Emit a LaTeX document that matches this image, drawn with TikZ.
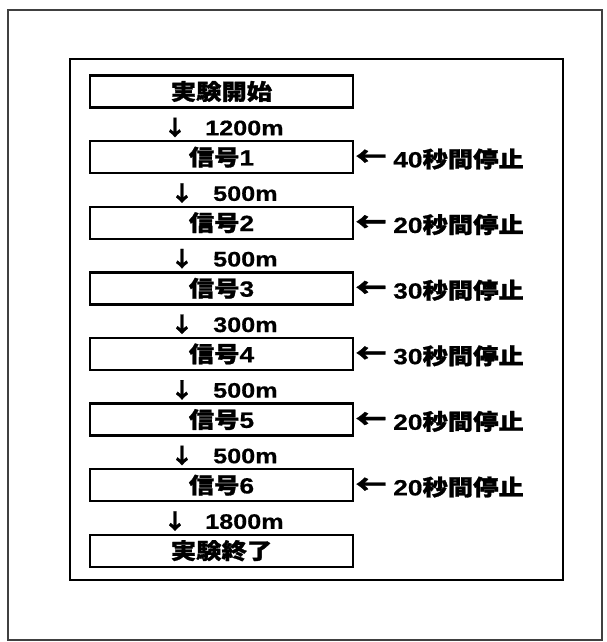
\documentclass[tikz,border=0pt]{standalone}
\usepackage{fontspec}
\setmainfont{Liberation Sans}[FakeStretch=1.2, BoldFeatures={FakeBold=0.6}]
\newfontfamily\cjk{Noto Sans CJK JP}[FakeStretch=1.15, BoldFeatures={FakeBold=1.2}]
\tikzset{
  outerframe/.style={draw=black!75, line width=1.2pt},
  innerframe/.style={draw=black, line width=2.6pt},
  stepbox/.style={draw, line width=2.4pt, minimum width=263pt, minimum height=32pt, inner sep=0pt,
    font=\fontsize{22}{22}\selectfont\bfseries},
  darrow/.style={anchor=center, inner sep=0pt, font=\fontsize{21}{21}\selectfont\bfseries},
  dist/.style={anchor=west, inner sep=0pt, font=\fontsize{21}{21}\selectfont\bfseries},
  sarrow/.style={anchor=center, inner sep=0pt, font=\fontsize{27}{27}\selectfont\bfseries},
  stop/.style={anchor=west, inner sep=0pt, font=\fontsize{22}{22}\selectfont\bfseries},
}
\newcommand{\jp}[1]{{\cjk\bfseries #1}}
\begin{document}
\begin{tikzpicture}[x=1pt,y=-1pt]
\useasboundingbox (0,0) rectangle (607,642);
\draw[outerframe] (8,10) rectangle (602,640);
\draw[innerframe] (70,59) rectangle (563,580);

\node[stepbox] (s0) at (221.5,91.5) {\jp{実験開始}};
\node[stepbox] (s1) at (221.5,157.1) {\jp{信号}1};
\node[stepbox] (s2) at (221.5,222.7) {\jp{信号}2};
\node[stepbox] (s3) at (221.5,288.3) {\jp{信号}3};
\node[stepbox] (s4) at (221.5,353.9) {\jp{信号}4};
\node[stepbox] (s5) at (221.5,419.5) {\jp{信号}5};
\node[stepbox] (s6) at (221.5,485.1) {\jp{信号}6};
\node[stepbox] (s7) at (221.5,550.7) {\jp{実験終了}};

\node[darrow] (a1) at (175,127.5) {\jp{↓}};
\node[dist] (d1) at (205,128) {1200m};
\node[darrow] (a2) at (182,193.1) {\jp{↓}};
\node[dist] (d2) at (213,193.6) {500m};
\node[darrow] (a3) at (182,258.7) {\jp{↓}};
\node[dist] (d3) at (213,259.2) {500m};
\node[darrow] (a4) at (182,324.3) {\jp{↓}};
\node[dist] (d4) at (213,324.8) {300m};
\node[darrow] (a5) at (182,389.9) {\jp{↓}};
\node[dist] (d5) at (213,390.4) {500m};
\node[darrow] (a6) at (182,455.5) {\jp{↓}};
\node[dist] (d6) at (213,456) {500m};
\node[darrow] (a7) at (175,521.1) {\jp{↓}};
\node[dist] (d7) at (205,521.6) {1800m};

\node[sarrow] (r1) at (371,158) {\jp{←}};
\node[stop] (t1) at (393,159) {40\jp{秒間停止}};
\node[sarrow] (r2) at (371,223.6) {\jp{←}};
\node[stop] (t2) at (393,224.6) {20\jp{秒間停止}};
\node[sarrow] (r3) at (371,289.2) {\jp{←}};
\node[stop] (t3) at (393,290.2) {30\jp{秒間停止}};
\node[sarrow] (r4) at (371,354.8) {\jp{←}};
\node[stop] (t4) at (393,355.8) {30\jp{秒間停止}};
\node[sarrow] (r5) at (371,420.4) {\jp{←}};
\node[stop] (t5) at (393,421.4) {20\jp{秒間停止}};
\node[sarrow] (r6) at (371,486) {\jp{←}};
\node[stop] (t6) at (393,487) {20\jp{秒間停止}};
\end{tikzpicture}
\end{document}
